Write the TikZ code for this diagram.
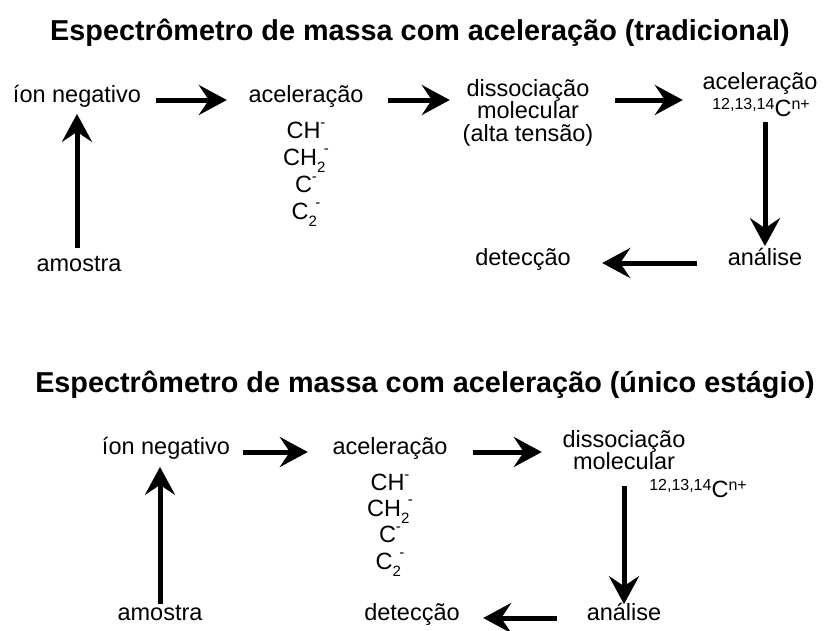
\documentclass[tikz,border=0pt]{standalone}
\usepackage{fontspec}
\setmainfont{Liberation Sans}
\usetikzlibrary{arrows.meta}
\tikzset{
  lbl/.style={inner sep=0pt, font=\fontsize{23.5}{27}\selectfont, text height=0.72em, text depth=0.21em},
  multi/.style={inner sep=0pt, font=\fontsize{23.5}{22.5}\selectfont, align=center},
  ttl/.style={inner sep=0pt, font=\fontsize{28.8}{33}\selectfont\bfseries},
  arr/.style={line width=5pt, -{Stealth[length=28pt,width=30pt,inset=10pt]}}
}
\newcommand{\isotope}{\raisebox{0.3em}{\fontsize{16}{16}\selectfont 12,13,14}C\raisebox{0.3em}{\fontsize{16}{16}\selectfont n+}}
\newcommand{\supmin}{\raisebox{0.45em}{\fontsize{15}{15}\selectfont -}}
\newcommand{\subsupmin}{\rlap{\raisebox{-0.3em}{\fontsize{15}{15}\selectfont 2}}\raisebox{0.5em}{\hspace{0.28em}\fontsize{15}{15}\selectfont -}}
\begin{document}
\begin{tikzpicture}[x=1pt,y=-1pt]
\useasboundingbox (0,0) rectangle (824,630);
% ---------- top diagram ----------
\node[ttl] (t1) at (420,33) {Espectrômetro de massa com aceleração (tradicional)};
\node[lbl] (ion1) at (77,100) {íon negativo};
\node[lbl] (acc1) at (306,100) {aceleração};
\node[lbl] (ch1) at (306,136) {CH\supmin};
\node[lbl] (chb1) at (306,163) {CH\subsupmin};
\node[lbl] (c1) at (306,190) {C\supmin};
\node[lbl] (cc1) at (306,217) {C\subsupmin};
\node[multi] (diss1) at (528,112.5) {dissociação\\molecular\\(alta tensão)};
\node[lbl] (acc1b) at (760,87) {aceleração};
\node[lbl] (iso1) at (761,114) {\isotope};
\node[lbl] (ana1) at (765,263) {análise};
\node[lbl] (det1) at (523,263) {detecção};
\node[lbl] (amo1) at (79,269) {amostra};

\draw[arr, shorten <=14.6pt, shorten >=21.5pt] (ion1.east) -- (acc1.west);
\draw[arr, shorten <=24.5pt, shorten >=12.7pt] (acc1.east) -- (acc1.east -| diss1.west);
\draw[arr, shorten <=21.7pt, shorten >=19.5pt] (diss1.east |- acc1.east) -- (acc1b.west |- acc1.east);
\draw[arr, shorten <=3pt, shorten >=12pt] (ana1.north |- iso1.south) -- (ana1.north);
\draw[arr, shorten <=30.8pt, shorten >=31.3pt] (ana1.west) -- (det1.east);
\draw[arr, shorten <=16pt, shorten >=9pt] (ion1.south |- amo1.north) -- (ion1.south);

% ---------- bottom diagram ----------
\node[ttl] (t2) at (425,385) {Espectrômetro de massa com aceleração (único estágio)};
\node[lbl] (ion2) at (166,452) {íon negativo};
\node[lbl] (acc2) at (390,452) {aceleração};
\node[lbl] (ch2) at (390,488) {CH\supmin};
\node[lbl] (chb2) at (390,514) {CH\subsupmin};
\node[lbl] (c2) at (390,540) {C\supmin};
\node[lbl] (cc2) at (390,567) {C\subsupmin};
\node[multi] (diss2) at (624,450) {dissociação\\molecular};
\node[lbl] (iso2) at (698,495) {\isotope};
\node[lbl] (ana2) at (624,618) {análise};
\node[lbl] (det2) at (412,618) {detecção};
\node[lbl] (amo2) at (160,618) {amostra};

\draw[arr, shorten <=12.6pt, shorten >=24.5pt] (ion2.east) -- (acc2.west);
\draw[arr, shorten <=25.5pt, shorten >=20.6pt] (acc2.east) -- (diss2.west |- acc2.east);
\draw[arr, shorten <=16pt, shorten >=9pt] (ana2.north |- diss2.south) -- (ana2.north);
\draw[arr, shorten <=29.8pt, shorten >=23.3pt] (ana2.west) -- (det2.east);
\draw[arr, shorten <=9pt, shorten >=10pt] (amo2.north) -- (amo2.north |- ion2.south);
\end{tikzpicture}
\end{document}
